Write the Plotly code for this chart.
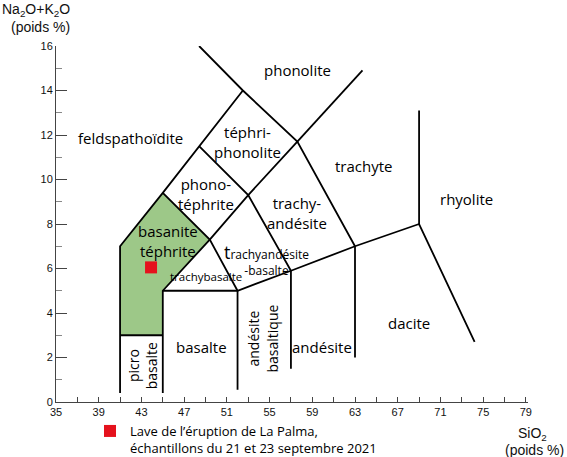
import plotly.graph_objects as go

# ---------------- data ----------------
# TAS field boundaries (SiO2 wt%, Na2O+K2O wt%)
left_bound_x = [41, 41, 45, 48.4, 52.5]
left_bound_y = [0.4, 7, 9.4, 11.5, 14]
phono_bound_x = [48.4, 52.5, 57.6, 63]
phono_bound_y = [16, 14, 11.7, 7]
trachyte_top_x = [57.6, 63.7]
trachyte_top_y = [11.7, 14.9]
basanite_right_x = [45, 49.4, 52]
basanite_right_y = [9.4, 7.3, 5]
phonoteph_x = [48.4, 53, 57]
phonoteph_y = [11.5, 9.3, 5.9]
tephphon_x = [49.4, 53, 57.6]
tephphon_y = [7.3, 9.3, 11.7]
picro_top_x = [41, 45]
picro_top_y = [3, 3]
basalt_left_x = [45, 45, 49.4]
basalt_left_y = [0.4, 5, 7.3]
main_bound_x = [45, 52, 57, 63, 69, 74.2]
main_bound_y = [5, 5, 5.9, 7, 8, 2.7]
v52_x, v52_y = [52, 52], [0.55, 5]
v57_x, v57_y = [57, 57], [1.5, 5.9]
v63_x, v63_y = [63, 63], [2.0, 7]
v69_x, v69_y = [69, 69], [8, 13.1]

basanite_fill_x = [41, 41, 45, 49.4, 45, 45, 41]
basanite_fill_y = [3, 7, 9.4, 7.3, 5, 3, 3]

# La Palma sample
sample_sio2 = [43.9]
sample_alk = [6.05]
sample_name = "Lave de l\u2019éruption de La Palma,<br>échantillons du 21 et 23 septembre 2021"

x_tickvals = [35, 39, 43, 47, 51, 55, 59, 63, 67, 71, 75, 79]
y_tickvals = [0, 2, 4, 6, 8, 10, 12, 14, 16]

# field labels: text, x, y, size, angle
labels_text = ["phonolite", "feldspathoïdite", "téphri-<br>phonolite", "trachyte", "rhyolite",
               "phono-<br>téphrite", "trachy-<br>andésite", "basanite<br>téphrite",
               '<span style="font-size:18px">t</span>rachyandésite<br>-basalte', "trachybasalte",
               "basalte", "picro<br>basalte", "andésite<br>basaltique", "andésite", "dacite"]
labels_x = [57.57, 41.93, 52.93, 63.75, 73.48,
            49.09, 57.56, 45.49,
            54.7, 49.04,
            48.62, 43.1, 54.38, 59.91, 68.05]
labels_y = [14.91, 11.86, 11.7, 10.61, 9.13,
            9.37, 8.5, 7.22,
            6.42, 5.63,
            2.49, 1.63, 2.85, 2.49, 3.57]
labels_size = [15, 15, 15, 15, 15,
               15, 15, 15,
               12, 11.5,
               15, 14, 14, 15, 15]
labels_angle = [0, 0, 0, 0, 0,
                0, 0, 0,
                0, 0,
                0, -90, -90, 0, 0]

# ---------------- figure ----------------
fig = go.Figure()

fig.add_trace(go.Scatter(x=basanite_fill_x, y=basanite_fill_y, fill="toself",
                         fillcolor="#9dc888", line=dict(width=0), mode="lines",
                         hoverinfo="skip", showlegend=False))

segments = [(left_bound_x, left_bound_y), (phono_bound_x, phono_bound_y),
            (trachyte_top_x, trachyte_top_y), (basanite_right_x, basanite_right_y),
            (phonoteph_x, phonoteph_y), (tephphon_x, tephphon_y),
            (picro_top_x, picro_top_y), (basalt_left_x, basalt_left_y),
            (main_bound_x, main_bound_y), (v52_x, v52_y), (v57_x, v57_y),
            (v63_x, v63_y), (v69_x, v69_y)]
for sx, sy in segments:
    fig.add_trace(go.Scatter(x=sx, y=sy, mode="lines",
                             line=dict(color="black", width=1.8),
                             hoverinfo="skip", showlegend=False))

fig.add_trace(go.Scatter(x=sample_sio2, y=sample_alk, mode="markers",
                         marker=dict(symbol="square", size=12, color="#e5121d"),
                         name=sample_name, showlegend=True))

for t, x, y, s, a in zip(labels_text, labels_x, labels_y, labels_size, labels_angle):
    fig.add_annotation(x=x, y=y, text=t, showarrow=False, textangle=a,
                       xanchor="center", yanchor="middle",
                       font=dict(family="Open Sans", size=s, color="black"))

# axis titles (paper coordinates from pixel layout)
L, R, T, B = 56, 39, 46, 55
W, H = 567 - L - R, 457 - T - B

def px(xp):
    return (xp - L) / W

def py(yp):
    return (457 - B - yp) / H

fig.add_annotation(xref="paper", yref="paper", x=px(36), y=py(10),
                   text="Na<sub>2</sub>O+K<sub>2</sub>O", showarrow=False,
                   xanchor="center", yanchor="middle",
                   font=dict(family="Liberation Sans", size=14, color="#111"))
fig.add_annotation(xref="paper", yref="paper", x=px(40), y=py(27),
                   text="(poids %)", showarrow=False, xanchor="center", yanchor="middle",
                   font=dict(family="Liberation Sans", size=14, color="#111"))
fig.add_annotation(xref="paper", yref="paper", x=px(532), y=py(434),
                   text="SiO<sub>2</sub>", showarrow=False, xanchor="center", yanchor="middle",
                   font=dict(family="Liberation Sans", size=14, color="#111"))
fig.add_annotation(xref="paper", yref="paper", x=px(534), y=py(450),
                   text="(poids %)", showarrow=False, xanchor="center", yanchor="middle",
                   font=dict(family="Liberation Sans", size=14, color="#111"))

fig.update_layout(
    width=567, height=457,
    margin=dict(l=L, r=R, t=T, b=B, autoexpand=False),
    plot_bgcolor="white", paper_bgcolor="white",
    showlegend=True,
    legend=dict(x=px(90), y=py(416), xanchor="left", yanchor="top",
                valign="top", bgcolor="rgba(0,0,0,0)",
                font=dict(family="Open Sans", size=13, color="black")),
    xaxis=dict(range=[35, 79.2], showgrid=False, zeroline=False,
               showline=True, linecolor="#444", linewidth=1,
               tickvals=x_tickvals, ticks="inside", ticklen=5, tickcolor="#444",
               minor=dict(ticks="inside", ticklen=5, dtick=2, tick0=35, tickcolor="#444"),
               tickfont=dict(family="Liberation Sans", size=11, color="#111")),
    yaxis=dict(range=[0, 16], showgrid=False, zeroline=False,
               showline=True, linecolor="#444", linewidth=1,
               tickvals=y_tickvals, ticks="inside", ticklen=11, tickcolor="#444",
               minor=dict(ticks="inside", ticklen=6, dtick=1, tick0=0, tickcolor="#888"),
               tickfont=dict(family="Liberation Sans", size=11, color="#111")),
)

fig.write_html("out.html", config={"displayModeBar": False},
               post_script="document.body.style.margin='0';")
